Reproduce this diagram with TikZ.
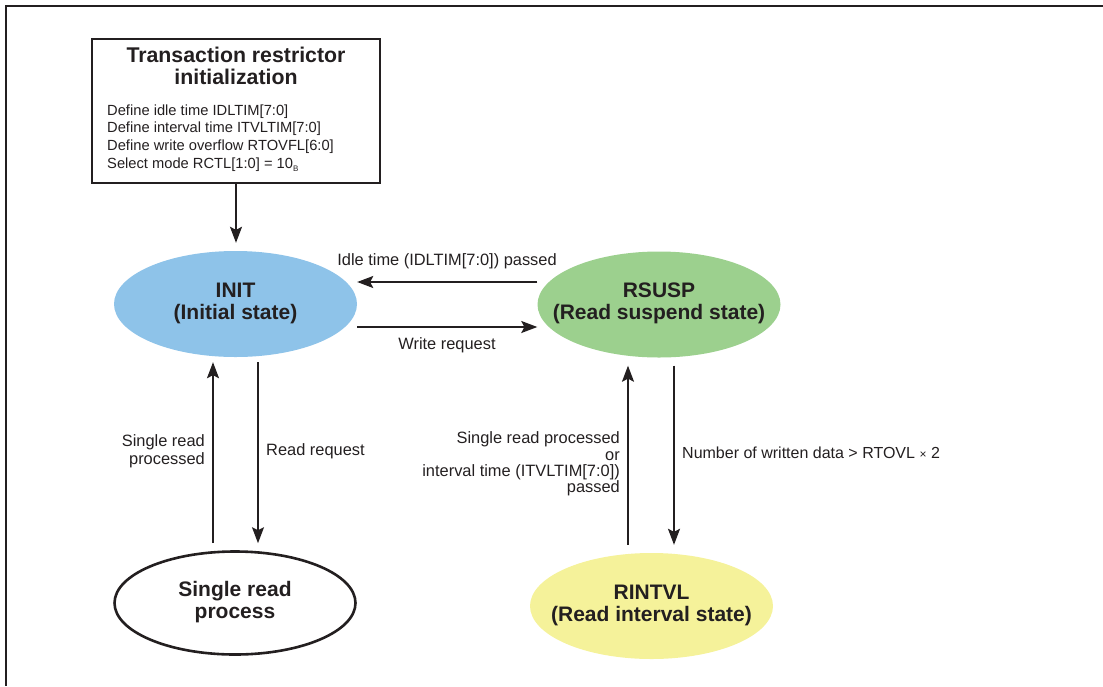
\documentclass[tikz,border=0pt]{standalone}
\usepackage{fontspec}
\setmainfont{Liberation Sans}
\usetikzlibrary{shapes.geometric,arrows.meta,calc}
\definecolor{initblue}{HTML}{8EC3E9}
\definecolor{suspgreen}{HTML}{9CD08E}
\definecolor{intvyellow}{HTML}{F5F29A}
\definecolor{ink}{HTML}{231F20}
\newcommand{\twoline}[2]{\makebox[0pt]{\begin{tabular}{@{}c@{}}#1\\#2\end{tabular}}}
\tikzset{
  statenode/.style={ellipse, inner sep=0pt, minimum width=243pt, minimum height=106pt,
    text=ink, font=\fontsize{21}{22}\selectfont\bfseries},
  arr/.style={line width=1.6pt, draw=ink, -{Stealth[length=16pt,width=12pt,inset=3pt]}},
  lbl/.style={text=ink, inner sep=0pt, font=\fontsize{16.4}{16}\selectfont},
}
\begin{document}
\begin{tikzpicture}[x=1pt,y=-1pt]
\useasboundingbox (0,0) rectangle (1103,686);
% frame
\draw[line width=2pt, ink] (1103,6) -- (6,6) -- (6,686);
% init box
\node[draw=ink, line width=1.8pt, minimum width=288pt, minimum height=144pt, inner sep=0pt] (box) at (236,111) {};
\node[text=ink, align=center, inner sep=0pt, font=\fontsize{21.3}{22}\selectfont\bfseries] (boxtitle) at (236,66) {Transaction restrictor\\initialization};
\node[text=ink, align=left, anchor=west, inner sep=0pt, font=\fontsize{14.7}{17.7}\selectfont] (boxbody) at (107,138)
  {Define idle time IDLTIM[7:0]\\Define interval time ITVLTIM[7:0]\\Define write overflow RTOVFL[6:0]\\Select mode RCTL[1:0] = 10\raisebox{-3.5pt}{\fontsize{8}{8}\selectfont B}};
% states
\node[statenode, fill=initblue] (init) at (235.5,304) {\twoline{INIT}{(Initial state)}};
\node[statenode, fill=suspgreen] (rsusp) at (659,304.5) {\twoline{RSUSP}{(Read suspend state)}};
\node[statenode, draw=ink, line width=2.6pt, minimum width=241pt, minimum height=103pt] (srp) at (235,603) {\twoline{Single read}{process}};
\node[statenode, fill=intvyellow] (rintvl) at (651.5,606) {\twoline{RINTVL}{(Read interval state)}};
% connectors
\draw[arr] (box.south) -- ($(box.south |- init.north)+(0,-8)$);
\coordinate (idleS) at ($(rsusp.west)+(0,-22.5)$);
\draw[arr] (idleS) -- (idleS -| init.east);
\coordinate (writeS) at ($(init.east)+(0,23)$);
\draw[arr] (writeS) -- (writeS -| rsusp.west);
\draw[arr] ($(srp.north)+(-22,-7)$) -- ($(srp.north |- init.south)+(-22,5)$);
\draw[arr] ($(srp.north |- init.south)+(23,5)$) -- ($(srp.north)+(23,-7)$);
\draw[arr] ($(rintvl.north)+(-23.5,-8)$) -- ($(rintvl.north |- rsusp.south)+(-23.5,8)$);
\draw[arr] ($(rintvl.north |- rsusp.south)+(22.5,8)$) -- ($(rintvl.north)+(22.5,-8)$);
% labels
\node[lbl] (lidle) at (447,261) {Idle time (IDLTIM[7:0]) passed};
\node[lbl] (lwrite) at (447,345) {Write request};
\node[lbl, align=right, anchor=east, font=\fontsize{16.4}{18}\selectfont] (lsrp) at (205,451) {Single read\\processed};
\node[lbl, anchor=west] (lreadreq) at (266,451) {Read request};
\node[lbl, align=right, anchor=east, font=\fontsize{16.4}{16.3}\selectfont] (lint) at (620,464) {Single read processed\\or\\interval time (ITVLTIM[7:0])\\passed};
\node[lbl, anchor=west, font=\fontsize{16}{16}\selectfont] (lnum) at (682,453) {Number of written data > RTOVL\hspace{4.5pt}{\fontsize{12}{12}\selectfont ×}\hspace{4.5pt}2};
\end{tikzpicture}
\end{document}
